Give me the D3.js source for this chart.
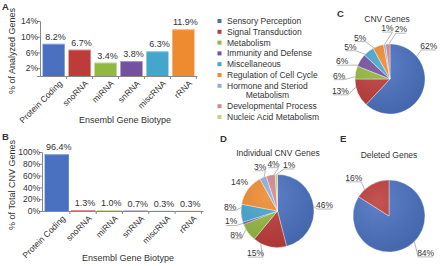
<!DOCTYPE html>
<html>
<head>
<meta charset="utf-8">
<script src="https://cdn.jsdelivr.net/npm/d3@7"></script>
<style>
  html, body { margin: 0; padding: 0; background: #fff; }
  svg { display: block; font-family: "Liberation Sans", Arial, sans-serif; }
  text { fill: #333; }
</style>
</head>
<body>
<svg id="chart" width="440" height="266"></svg>
<script>
// ---------------- DATA ----------------
const biotypes = ["Protein Coding", "snoRNA", "miRNA", "snRNA", "miscRNA", "rRNA"];
const analyzedPct = [8.2, 6.7, 3.4, 3.8, 6.3, 11.9];
const cnvPct = [96.4, 1.3, 1.0, 0.7, 0.3, 0.3];
const analyzedTicks = [2, 6, 10, 14];
const cnvTicks = [0, 20, 40, 60, 80, 100];

const functions = [
  "Sensory Perception", "Signal Transduction", "Metabolism", "Immunity and Defense",
  "Miscellaneous", "Regulation of Cell Cycle", "Hormone and Steriod|Metabolism",
  "Developmental Process", "Nucleic Acid Metabolism"
];
const cnvGenes = [62, 13, 6, 6, 5, 5, 1, 2, 0];
const individualCnvGenes = [46, 15, 8, 1, 8, 14, 3, 4, 1];
const deletedGenes = [84, 16];

// ---------------- STYLE / LAYOUT ----------------
const barColors = ["#4a71c0", "#bd3c3a", "#93b83f", "#74519f", "#45a6cc", "#ee8a2f"];
const fnColors = ["#4a71c0", "#bd3c3a", "#93b83f", "#74519f", "#45a6cc", "#ee8a2f",
                  "#92aedb", "#d28b8e", "#bfd48a"];
// label angle adjustment (degrees) relative to slice mid-angle
const shiftC = [-62, 10, -7, -12, -13, -16, 6, 16, 0];
const shiftD = [0, 15, 6, 7, 9, 1, 2, 6, 16];
const shiftE = [-16, -14];

const svg = d3.select("#chart");

// panel letters
const letters = [["A", 2, 10], ["B", 2, 140], ["C", 337, 17], ["D", 220, 142], ["E", 340, 142]];
svg.selectAll("text.letter").data(letters).join("text")
  .attr("class", "letter")
  .attr("x", d => d[1]).attr("y", d => d[2])
  .attr("font-size", 9.5).attr("font-weight", "bold")
  .text(d => d[0]);

function barPanel(cfg) {
  const g = svg.append("g");
  const x = d3.scaleBand().domain(biotypes).range(cfg.xr)
    .paddingInner(cfg.pin).paddingOuter(cfg.pout);
  const y = d3.scaleLinear().domain(cfg.domain).range(cfg.yr);
  // bars
  g.selectAll("rect.bar").data(cfg.values).join("rect")
    .attr("class", "bar")
    .attr("x", (d, i) => x(biotypes[i]))
    .attr("width", x.bandwidth())
    .attr("y", d => y(d))
    .attr("height", d => Math.max(0.8, y(0) - y(d)))
    .attr("fill", (d, i) => barColors[i]);
  // highlight top
  g.selectAll("rect.hl").data(cfg.values).join("rect")
    .attr("x", (d, i) => x(biotypes[i]) + 0.5)
    .attr("width", x.bandwidth() - 1)
    .attr("y", d => y(d))
    .attr("height", d => Math.min(1, y(0) - y(d)))
    .attr("fill", "#fff").attr("opacity", 0.35);
  // value labels
  g.selectAll("text.val").data(cfg.values).join("text")
    .attr("x", (d, i) => x(biotypes[i]) + x.bandwidth() / 2 + 2)
    .attr("y", d => y(d) - 4)
    .attr("text-anchor", "middle")
    .attr("font-size", 9)
    .text(d => d.toFixed(1) + "%");
  // y axis
  const ya = g.append("g").attr("transform", `translate(${cfg.xr[0]},0)`)
    .call(d3.axisLeft(y).tickValues(cfg.ticks).tickSize(3).tickFormat(d => d + "%"));
  ya.select(".domain").attr("stroke", "#888");
  ya.selectAll(".tick line").attr("stroke", "#888");
  ya.selectAll(".tick text").attr("font-size", 8.5).attr("fill", "#333")
    .attr("font-family", "Liberation Sans, Arial, sans-serif").attr("x", -2);
  // x axis
  const xa = g.append("g").attr("transform", `translate(0,${y(0)})`)
    .call(d3.axisBottom(x).tickSize(0).tickFormat(""));
  xa.select(".domain").attr("stroke", "#888");
  // boundary ticks
  const bounds = biotypes.map(b => x(b) + x.bandwidth() + x.step() * x.paddingInner() / 2);
  g.selectAll("line.bt").data(bounds).join("line")
    .attr("x1", d => d).attr("x2", d => d)
    .attr("y1", y(0)).attr("y2", y(0) + 3).attr("stroke", "#888");
  // category labels
  g.selectAll("text.cat").data(biotypes).join("text")
    .attr("transform", d => `translate(${x(d) + x.bandwidth() / 2 + 7},${y(0) + 6}) rotate(-45)`)
    .attr("text-anchor", "end").attr("dy", "0.35em")
    .attr("font-size", 8.5)
    .text(d => d);
  // axis titles
  g.append("text").attr("x", cfg.xtx).attr("y", cfg.xty)
    .attr("text-anchor", "middle").attr("font-size", 9).text("Ensembl Gene Biotype");
  g.append("text").attr("transform", `translate(${cfg.ytx},${cfg.yty}) rotate(-90)`)
    .attr("text-anchor", "middle").attr("font-size", 9).text(cfg.ytitle);
}

barPanel({ values: analyzedPct, domain: [0, 14], yr: [76, 21], xr: [40, 197], pin: 0.15, pout: 0.1,
  ticks: analyzedTicks, xtx: 125, xty: 123, ytx: 15, yty: 51, ytitle: "% of Analyzed Genes" });
barPanel({ values: cnvPct, domain: [0, 100], yr: [211, 152], xr: [42, 203], pin: 0.08, pout: 0.1,
  ticks: cnvTicks, xtx: 128, xty: 261, ytx: 15, yty: 185, ytitle: "% of Total CNV Genes" });

// legend
const leg = svg.append("g");
const legY = (i) => 21 + 10.8 * i + (i > 6 ? 9.6 : 0);
functions.forEach((f, i) => {
  const yy = legY(i);
  leg.append("rect").attr("x", 217.5).attr("y", yy - 2).attr("width", 4).attr("height", 4)
    .attr("fill", fnColors[i]);
  const parts = f.split("|");
  const t = leg.append("text").attr("x", 227).attr("y", yy).attr("dy", "0.35em")
    .attr("font-size", 8.5).text(parts[0]);
  if (parts[1]) {
    const w = t.node().getComputedTextLength();
    leg.append("text").attr("x", 227 + w / 2).attr("y", yy + 9.6).attr("dy", "0.35em")
      .attr("text-anchor", "middle").attr("font-size", 8.5).text(parts[1]);
  }
});

function piePanel(values, colors, cfg) {
  const g = svg.append("g");
  const arcs = d3.pie().sort(null).value(d => d)(values);
  const arc = d3.arc().innerRadius(0).outerRadius(cfg.r);
  g.append("text").attr("x", cfg.tx).attr("y", cfg.ty).attr("text-anchor", "middle")
    .attr("font-size", 8.5).attr("dy", "0.35em").text(cfg.title);
  const pg = g.append("g").attr("transform", `translate(${cfg.cx},${cfg.cy})`);
  pg.selectAll("path").data(arcs.filter(d => d.value > 0)).join("path")
    .attr("d", arc).attr("fill", d => colors[d.index])
    .attr("stroke", "#fff").attr("stroke-width", 0.4);
  // subtle shading
  const gid = "shade" + cfg.title.replace(/\W/g, "");
  const grad = svg.append("defs").append("radialGradient").attr("id", gid)
    .attr("cx", "35%").attr("cy", "30%").attr("r", "75%");
  grad.append("stop").attr("offset", "0%").attr("stop-color", "#fff").attr("stop-opacity", 0.12);
  grad.append("stop").attr("offset", "100%").attr("stop-color", "#000").attr("stop-opacity", 0.1);
  pg.append("circle").attr("r", cfg.r).attr("fill", `url(#${gid})`);
  arcs.forEach(d => {
    if (d.value <= 0) return;
    const mid = (d.startAngle + d.endAngle) / 2 + cfg.shift[d.index] * Math.PI / 180;
    const R = cfg.r + cfg.gap;
    const lx = R * Math.sin(mid), ly = -R * Math.cos(mid);
    const t = pg.append("text").attr("x", lx).attr("y", ly).attr("dy", "0.35em")
      .attr("text-anchor", "middle").attr("font-size", 8.5).text(d.value + "%");
    const w = t.node().getComputedTextLength();
    const la = Math.min(Math.max(mid, d.startAngle + 0.03), d.endAngle - 0.03);
    const ex = cfg.r * Math.sin(la), ey = -cfg.r * Math.cos(la);
    const side = lx >= 0 ? 1 : -1;
    const tx = lx - side * (w / 2 - 1), ty = ly + 4;
    if (Math.hypot(tx - ex, ty - ey) > 4) {
      pg.append("polyline")
        .attr("points", `${ex},${ey} ${tx},${ty} ${tx + side * (w - 2)},${ty}`)
        .attr("fill", "none").attr("stroke", "#999").attr("stroke-width", 0.7);
    }
  });
}

piePanel(cnvGenes, fnColors, { cx: 390, cy: 79, r: 35, gap: 16, shift: shiftC,
  title: "CNV Genes", tx: 387, ty: 19 });
piePanel(individualCnvGenes, fnColors, { cx: 277.5, cy: 211, r: 36.5, gap: 11, shift: shiftD,
  title: "Individual CNV Genes", tx: 278, ty: 153 });
piePanel(deletedGenes, fnColors, { cx: 389, cy: 216, r: 36, gap: 16, shift: shiftE,
  title: "Deleted Genes", tx: 389, ty: 155 });
</script>
</body>
</html>
